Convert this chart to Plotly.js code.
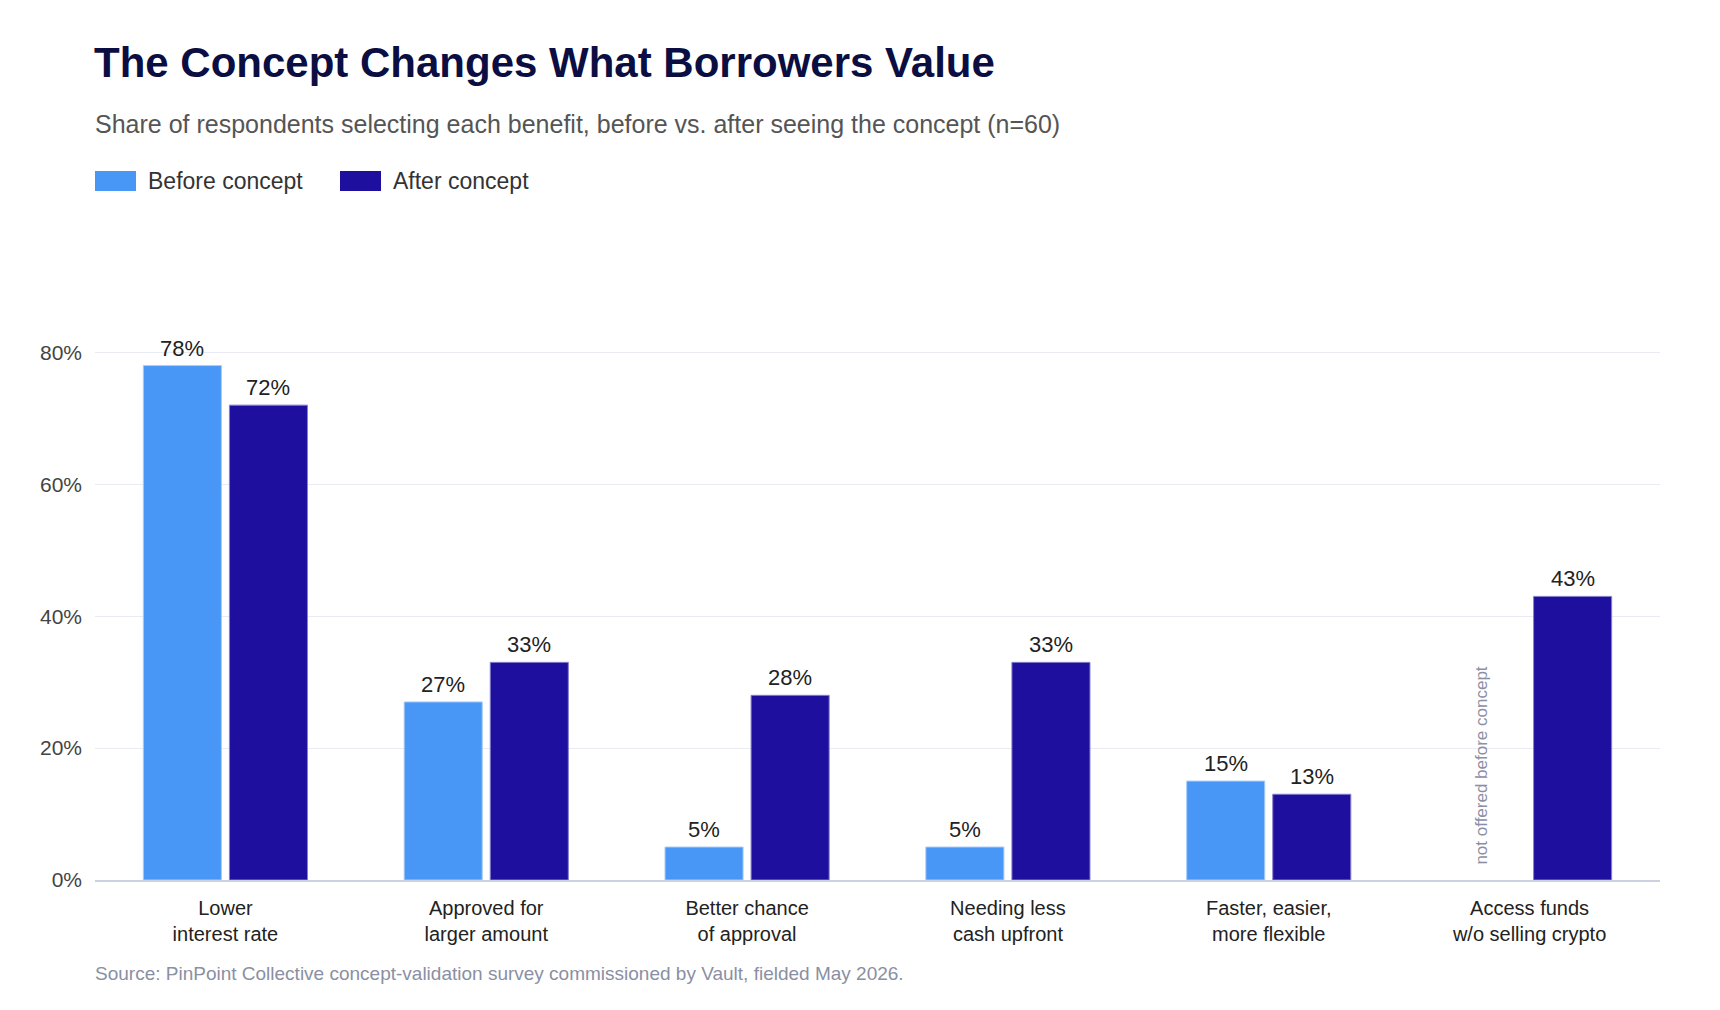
<!DOCTYPE html>
<html>
<head>
<meta charset="utf-8">
<script src="https://cdn.plot.ly/plotly-3.0.1.min.js"></script>
<style>
  html, body { margin: 0; padding: 0; background: #ffffff; }
  #chart { width: 1720px; height: 1010px; }
</style>
</head>
<body>
<div id="chart"></div>
<script>
// Benefit categories (two-line tick labels)
const categories = [
  "Lower<br>interest rate",
  "Approved for<br>larger amount",
  "Better chance<br>of approval",
  "Needing less<br>cash upfront",
  "Faster, easier,<br>more flexible",
  "Access funds<br>w/o selling crypto"
];

// Share of respondents (%) selecting each benefit
const beforeValues = [78, 27, 5, 5, 15, null];
const afterValues = [72, 33, 28, 33, 13, 43];

const seriesNames = ["Before concept", "After concept"];
const yTickValues = [0, 20, 40, 60, 80];
const yTickLabels = ["0%", "20%", "40%", "60%", "80%"];

const chartTitle = "The Concept Changes What Borrowers Value";
const chartSubtitle = "Share of respondents selecting each benefit, before vs. after seeing the concept (n=60)";
const sourceNote = "Source: PinPoint Collective concept-validation survey commissioned by Vault, fielded May 2026.";
const notOfferedNote = "not offered before concept";

// ---- styling ----
const FONT = "Liberation Sans, Arial, Helvetica, sans-serif";
const BEFORE_COLOR = "#4896f6";
const AFTER_COLOR = "#1f0f9f";

const W = 1720, H = 1010;
const M = { l: 95, r: 60, t: 326, b: 130 };
const plotH = H - M.t - M.b;
const plotW = W - M.l - M.r;
// pixel -> paper helpers
const py = p => (H - M.b - p) / plotH;
const px = p => (p - M.l) / plotW;

// bar offset within a category group (half of one bar slot)
const BAR_SHIFT = 43;

const traces = [
  {
    type: "bar",
    name: seriesNames[0],
    x: categories,
    y: beforeValues,
    marker: { color: BEFORE_COLOR, line: { color: "#a9cbfa", width: 1 } },
    hoverinfo: "skip",
    showlegend: false
  },
  {
    type: "bar",
    name: seriesNames[1],
    x: categories,
    y: afterValues,
    marker: { color: AFTER_COLOR, line: { color: "#8480cc", width: 1 } },
    hoverinfo: "skip",
    showlegend: false
  }
];

function valueLabels(values, shift) {
  const out = [];
  values.forEach((v, i) => {
    if (v === null || v === undefined) return;
    out.push({
      text: v + "%",
      xref: "x", yref: "y",
      x: categories[i], y: v,
      xshift: shift, yshift: 3,
      xanchor: "center", yanchor: "bottom",
      showarrow: false,
      font: { family: FONT, size: 22, color: "#222222" }
    });
  });
  return out;
}

// Custom legend swatches
const legendItems = [
  { name: seriesNames[0], color: BEFORE_COLOR, x0: 95, textX: 146 },
  { name: seriesNames[1], color: AFTER_COLOR, x0: 340, textX: 391 }
];
const legendY = 181;

const shapes = legendItems.map(it => ({
  type: "rect",
  xref: "paper", yref: "paper",
  x0: px(it.x0), x1: px(it.x0 + 41),
  y0: py(legendY - 10), y1: py(legendY + 10),
  fillcolor: it.color,
  line: { width: 0 }
}));

const annotations = [
  {
    text: chartSubtitle,
    xref: "paper", yref: "paper",
    x: px(93), y: py(124),
    xanchor: "left", yanchor: "middle",
    showarrow: false,
    font: { family: FONT, size: 25, color: "#555555" }
  },
  ...legendItems.map(it => ({
    text: it.name,
    xref: "paper", yref: "paper",
    x: px(it.textX), y: py(legendY),
    xanchor: "left", yanchor: "middle",
    showarrow: false,
    font: { family: FONT, size: 23, color: "#333333" }
  })),
  ...valueLabels(beforeValues, -BAR_SHIFT),
  ...valueLabels(afterValues, BAR_SHIFT),
  {
    text: notOfferedNote,
    xref: "x", yref: "y",
    x: categories[5], y: 0,
    xshift: -49, yshift: 13,
    xanchor: "center", yanchor: "bottom",
    textangle: -90,
    showarrow: false,
    font: { family: FONT, size: 17, color: "#8b8fa6" }
  },
  {
    text: sourceNote,
    xref: "paper", yref: "paper",
    x: px(93), y: py(973),
    xanchor: "left", yanchor: "middle",
    showarrow: false,
    font: { family: FONT, size: 19, color: "#8a8fa3" }
  }
];

const layout = {
  width: W,
  height: H,
  margin: M,
  paper_bgcolor: "#ffffff",
  plot_bgcolor: "#ffffff",
  font: { family: FONT },
  title: {
    text: "<b>" + chartTitle + "</b>",
    font: { family: FONT, size: 42, color: "#0b0e42" },
    xref: "container", yref: "container",
    x: 94 / W, xanchor: "left",
    y: 1 - 62 / H, yanchor: "middle"
  },
  barmode: "group",
  bargap: 0.34,
  bargroupgap: 0.093,
  xaxis: {
    type: "category",
    showgrid: false,
    zeroline: false,
    showline: true,
    linecolor: "#cdd0e0",
    linewidth: 2,
    ticks: "",
    ticklabelstandoff: 9,
    tickfont: { family: FONT, size: 20, color: "#222222" },
    fixedrange: true
  },
  yaxis: {
    range: [0, 84],
    tickvals: yTickValues,
    ticktext: yTickLabels,
    showgrid: true,
    gridcolor: "#e9eaf3",
    gridwidth: 1,
    zeroline: false,
    showline: false,
    ticks: "",
    ticklabelstandoff: 12,
    tickfont: { family: FONT, size: 21, color: "#444444" },
    fixedrange: true
  },
  shapes: shapes,
  annotations: annotations
};

Plotly.newPlot("chart", traces, layout, { displayModeBar: false, staticPlot: true });
</script>
</body>
</html>
